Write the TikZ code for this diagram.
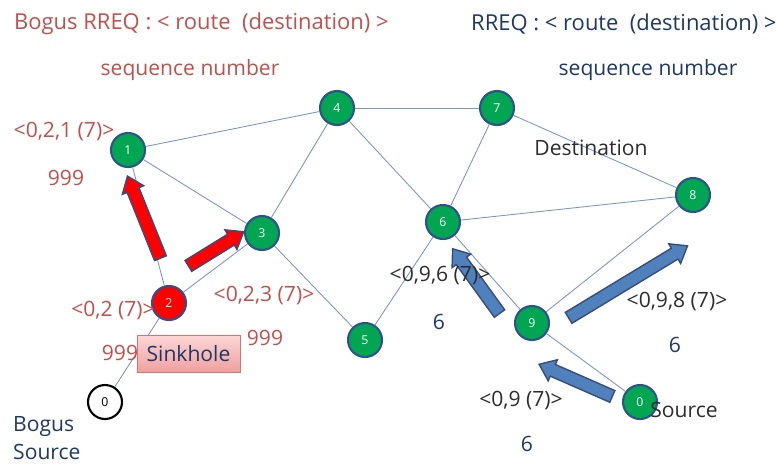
\documentclass[tikz,border=0pt]{standalone}
\usepackage{fontspec}
\setmainfont{Open Sans}
\usetikzlibrary{shapes.arrows, positioning, calc, shadows}
\definecolor{nodegreen}{RGB}{0, 166, 81}
\definecolor{nodeborder}{RGB}{47, 82, 143}
\definecolor{linkcolor}{RGB}{125, 150, 190}
\definecolor{boguscolor}{RGB}{192, 80, 77}
\definecolor{navytext}{RGB}{31, 56, 100}
\definecolor{plaintext}{RGB}{45, 45, 45}
\definecolor{arrowblue}{RGB}{79, 129, 189}
\definecolor{arrowedge}{RGB}{56, 77, 120}
\definecolor{sinktop}{RGB}{252, 214, 214}
\definecolor{sinkbottom}{RGB}{240, 160, 160}
\definecolor{sinkdraw}{RGB}{217, 115, 110}
\tikzset{
    sensor/.style={
        circle,
        minimum size=0.68cm,
        inner sep=0pt,
        draw=nodeborder,
        line width=1.2pt,
        fill=nodegreen,
        text=white,
        font=\scriptsize
    },
    sinknode/.style={
        sensor,
        fill=red
    },
    bogusnode/.style={
        sensor,
        fill=white,
        draw=black,
        text=black
    },
    link/.style={
        draw=linkcolor,
        line width=0.5pt
    },
    redflow/.style={
        single arrow,
        draw=arrowedge,
        fill=red,
        line width=0.8pt,
        inner xsep=0pt,
        inner ysep=0.11cm,
        minimum width=0.46cm,
        single arrow head extend=0.1cm,
        single arrow tip angle=75
    },
    blueflow/.style={
        redflow,
        fill=arrowblue
    },
    boguslabel/.style={
        text=boguscolor,
        font=\fontsize{12}{16}\selectfont
    },
    navylabel/.style={
        text=navytext,
        font=\fontsize{12}{16}\selectfont
    },
    plainlabel/.style={
        text=plaintext,
        font=\fontsize{12}{16}\selectfont
    },
    headline/.style={
        font=\fontsize{12.5}{16}\selectfont
    },
    sinkbox/.style={
        rectangle,
        minimum width=2.06cm,
        minimum height=0.74cm,
        draw=sinkdraw,
        top color=sinktop,
        bottom color=sinkbottom,
        text=navytext,
        font=\fontsize{12}{16}\selectfont,
        drop shadow={opacity=0.25, shadow xshift=0.6pt, shadow yshift=-0.8pt}
    }
}
\begin{document}
\begin{tikzpicture}[x=0.02cm, y=-0.02cm]
    \useasboundingbox (0,0) rectangle (776,464);

    % Define sensor nodes
    \node (n1) [sensor] at (128,150) {1};
    \node (n2) [sinknode] at (169,303) {2};
    \node (n3) [sensor] at (262,233) {3};
    \node (n4) [sensor] at (337,108) {4};
    \node (n5) [sensor] at (365,340) {5};
    \node (n6) [sensor] at (443,222) {6};
    \node (n7) [sensor] at (497,108) {7};
    \node (n8) [sensor] at (693,195) {8};
    \node (n9) [sensor] at (532,323) {9};
    \node (src) [sensor] at (640,402) {0};
    \node (bogus) [bogusnode] at (105,402) {0};

    % Draw links
    \draw [link] (n1) -- (n4);
    \draw [link] (n1) -- (n3);
    \draw [link] (n1) -- (n2);
    \draw [link] (n2) -- (n3);
    \draw [link] (n2) -- (bogus);
    \draw [link] (n3) -- (n4);
    \draw [link] (n3) -- (n5);
    \draw [link] (n4) -- (n7);
    \draw [link] (n4) -- (n6);
    \draw [link] (n7) -- (n6);
    \draw [link] (n7) -- (n8);
    \draw [link] (n6) -- (n8);
    \draw [link] (n6) -- (n5);
    \draw [link] (n6) -- (n9);
    \draw [link] (n9) -- (n8);
    \draw [link] (n9) -- (src);

    % Add flow arrows
    \node (bogus1) [redflow, minimum height=1.77cm, rotate=111.9] at (145.5,221) {};
    \node (bogus2) [redflow, minimum height=1.30cm, rotate=31.7] at (212.5,251) {};
    \node (flow6) [blueflow, minimum height=1.60cm, rotate=125.9] at (478.5,284.5) {};
    \node (flow8) [blueflow, minimum height=2.78cm, rotate=31.2] at (624.5,284) {};
    \node (flow9) [blueflow, minimum height=1.60cm, rotate=156.3] at (579.5,382) {};

    % Add headers
    \node (bogushead) [boguslabel, headline, anchor=west] at (8,24) {Bogus RREQ : < route\ \ (destination) >};
    \node (bogusseq) [boguslabel] at (190,70) {sequence number};
    \node (rreqhead) [navylabel, headline, anchor=west] at (465,24) {RREQ : < route\ \ (destination) >};
    \node (rreqseq) [navylabel] at (648,70) {sequence number};

    % Add route annotations
    \node (r1) [boguslabel] at (64,132) {<0,2,1 (7)>};
    \node (s1) [boguslabel] at (66,178) {999};
    \node (r2) [boguslabel] at (113,311) {<0,2 (7)>};
    \node (s2) [boguslabel] at (120,353) {999};
    \node (r3) [boguslabel] at (264,296) {<0,2,3 (7)>};
    \node (s3) [boguslabel] at (265,338) {999};
    \node (sink) [sinkbox] at (188.5,353.5) {Sinkhole};
    \node (boguslbl) [navylabel, anchor=west, align=left] at (7,438) {Bogus\\Source};
    \node (destlbl) [plainlabel] at (591,148) {Destination};
    \node (r6) [plainlabel] at (440,276) {<0,9,6 (7)>};
    \node (s6) [navylabel] at (439,322) {6};
    \node (r8) [plainlabel] at (677,302) {<0,9,8 (7)>};
    \node (s8) [navylabel] at (675,345) {6};
    \node (r9) [plainlabel] at (521,401) {<0,9 (7)>};
    \node (s9) [navylabel] at (527,444) {6};
    \node (srclbl) [plainlabel] at (684,410) {Source};

\end{tikzpicture}
\end{document}
